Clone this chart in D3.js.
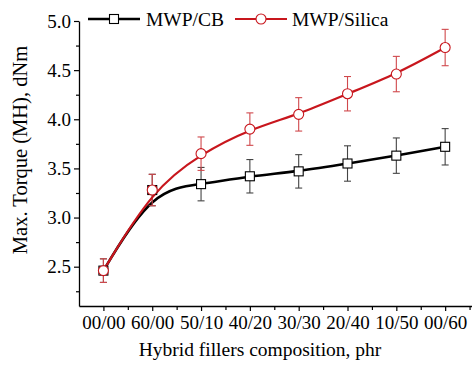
<!DOCTYPE html>
<html><head><meta charset="utf-8">
<script src="https://cdn.jsdelivr.net/npm/d3@7"></script>
<style>body{margin:0;background:#fff}svg{display:block}</style>
</head><body><svg id="c" width="472" height="365"></svg>
<script>
const categories = ["00/00","60/00","50/10","40/20","30/30","20/40","10/50","00/60"];
const cbValues = [2.46, 3.28, 3.34, 3.42, 3.47, 3.55, 3.63, 3.72];
const cbErrors = [0.12, 0.16, 0.17, 0.17, 0.17, 0.18, 0.18, 0.185];
const silicaValues = [2.46, 3.28, 3.65, 3.90, 4.05, 4.26, 4.46, 4.73];
const silicaErrors = [0.12, 0.16, 0.17, 0.165, 0.17, 0.175, 0.18, 0.185];
const yTicks = [2.5, 3.0, 3.5, 4.0, 4.5, 5.0];
const seriesNames = ["MWP/CB", "MWP/Silica"];

const svg = d3.select("#c");
const font = "'Liberation Serif','Times New Roman',serif";
const x = d3.scaleLinear().domain([-0.5, 7.55]).range([79, 472]);
const y = d3.scaleLinear().domain([2.1, 5.0]).range([306, 21]);

// axes
const yAxis = svg.append("g").attr("transform","translate(79,0)")
  .call(d3.axisLeft(y).tickValues(yTicks).tickFormat(d3.format(".1f")).tickSize(5).tickSizeOuter(0));
const yMinor = svg.append("g").attr("transform","translate(79,0)")
  .call(d3.axisLeft(y).tickValues(d3.range(2.25,5.0,0.5)).tickFormat("").tickSize(3).tickSizeOuter(0));
yMinor.select(".domain").remove();
const xAxis = svg.append("g").attr("transform","translate(0,306)")
  .call(d3.axisBottom(x).tickValues(d3.range(categories.length)).tickFormat(i=>categories[i]).tickSize(5).tickSizeOuter(0));
const xMinor = svg.append("g").attr("transform","translate(0,306)")
  .call(d3.axisBottom(x).tickValues(d3.range(0.5,7.6,1)).tickFormat("").tickSize(4).tickSizeOuter(0));
xMinor.select(".domain").remove();
svg.selectAll(".domain").attr("stroke","#000").attr("stroke-width",1.3);
svg.selectAll(".tick line").attr("stroke","#000").attr("stroke-width",1.2);
yAxis.selectAll("text").attr("font-family",font).attr("font-size",19).attr("fill","#000").attr("x",-8);
xAxis.selectAll("text").attr("font-family",font).attr("font-size",19).attr("fill","#000").attr("y",10);

// titles
svg.append("text").attr("x",260).attr("y",356).attr("text-anchor","middle")
  .attr("font-family",font).attr("font-size",19.5).text("Hybrid fillers composition, phr");
svg.append("text").attr("transform","translate(27,150) rotate(-90)").attr("text-anchor","middle")
  .attr("font-family",font).attr("font-size",20.5).text("Max. Torque (MH), dNm");

const series = [
  {vals: cbValues, errs: cbErrors, line:"#000", err:"#444", sw:2.6, marker:"square"},
  {vals: silicaValues, errs: silicaErrors, line:"#c8161d", err:"#d0484c", sw:2.2, marker:"circle"}
];
const lineGen = d3.line().x((d,i)=>x(i)).y(d=>y(d)).curve(d3.curveBasis);

series.forEach(s=>{
  const g = svg.append("g");
  s.vals.forEach((v,i)=>{
    const e = s.errs[i], cx = x(i);
    g.append("line").attr("x1",cx).attr("x2",cx).attr("y1",y(v+e)).attr("y2",y(v-e)).attr("stroke",s.err).attr("stroke-width",1.1);
    [v+e, v-e].forEach(t=>g.append("line").attr("x1",cx-3.5).attr("x2",cx+3.5).attr("y1",y(t)).attr("y2",y(t)).attr("stroke",s.err).attr("stroke-width",1.1));
  });
  g.append("path").datum(s.vals).attr("d",lineGen).attr("fill","none").attr("stroke",s.line).attr("stroke-width",s.sw);
});
series.forEach(s=>{
  const g = svg.append("g");
  s.vals.forEach((v,i)=>{
    if(s.marker==="square") g.append("rect").attr("x",x(i)-4.5).attr("y",y(v)-4.5).attr("width",9).attr("height",9).attr("fill","#fff").attr("stroke",s.line).attr("stroke-width",1.1);
    else g.append("circle").attr("cx",x(i)).attr("cy",y(v)).attr("r",5).attr("fill","#fff").attr("stroke",s.line).attr("stroke-width",1.1);
  });
});

// legend
const leg = [{x0:88, x1:140, tx:146, s:series[0], name:seriesNames[0]},{x0:235, x1:287, tx:292, s:series[1], name:seriesNames[1]}];
leg.forEach(l=>{
  const ly = 19, mx=(l.x0+l.x1)/2;
  svg.append("line").attr("x1",l.x0).attr("x2",l.x1).attr("y1",ly).attr("y2",ly).attr("stroke",l.s.line).attr("stroke-width",l.s.sw);
  if(l.s.marker==="square") svg.append("rect").attr("x",mx-4.5).attr("y",ly-4.5).attr("width",9).attr("height",9).attr("fill","#fff").attr("stroke",l.s.line).attr("stroke-width",1.1);
  else svg.append("circle").attr("cx",mx).attr("cy",ly).attr("r",5).attr("fill","#fff").attr("stroke",l.s.line).attr("stroke-width",1.1);
  svg.append("text").attr("x",l.tx).attr("y",ly+6.5).attr("font-family",font).attr("font-size",19.5).text(l.name);
});
</script></body></html>
